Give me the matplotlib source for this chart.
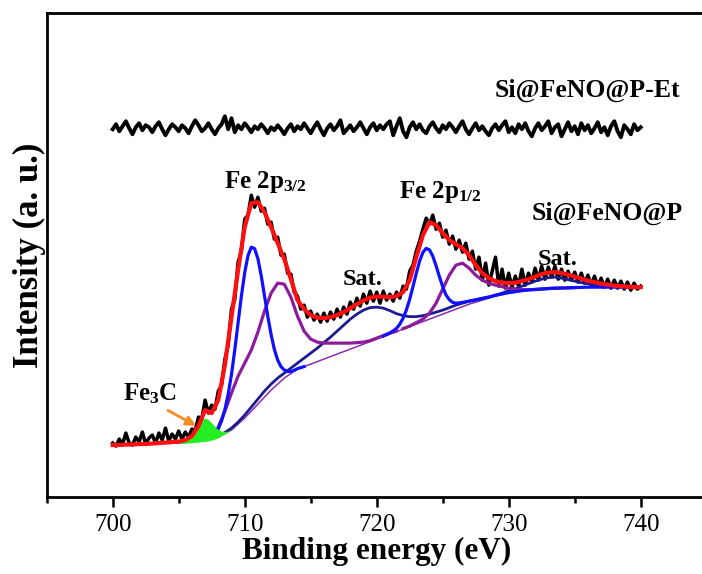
import numpy as np
import matplotlib
matplotlib.use("Agg")
import matplotlib.pyplot as plt
from matplotlib.ticker import MultipleLocator

plt.rcParams['font.family'] = 'Liberation Serif'
plt.rcParams['mathtext.fontset'] = 'custom'
plt.rcParams['mathtext.rm'] = 'Liberation Serif:bold'
plt.rcParams['mathtext.bf'] = 'Liberation Serif:bold'
plt.rcParams['mathtext.default'] = 'rm'

# measured spectra, 0.25 eV step
be_raw = np.arange(700, 740.001, 0.25)
etched = [366, 371, 364, 369, 374, 367, 361, 368, 372, 365,
          370, 368, 363, 369, 373, 366, 360, 366, 371, 368,
          364, 370, 367, 362, 369, 375, 370, 364, 367, 372,
          366, 361, 367, 371, 379, 366, 377, 363, 370, 366,
          372, 368, 363, 369, 366, 371, 367, 362, 368, 365,
          370, 366, 361, 367, 371, 364, 369, 366, 372, 367,
          362, 368, 373, 366, 360, 367, 371, 365, 369, 375,
          362, 366, 370, 364, 368, 373, 367, 361, 368, 372,
          365, 370, 366, 371, 374, 360, 369, 377, 364, 358,
          368, 373, 366, 371, 365, 362, 369, 373, 367, 363,
          370, 366, 372, 368, 363, 369, 374, 366, 361, 367,
          372, 365, 369, 364, 360, 367, 371, 365, 370, 374,
          363, 368, 362, 371, 366, 372, 364, 359, 367, 372,
          365, 369, 374, 362, 368, 371, 359, 366, 373, 364,
          369, 361, 372, 365, 370, 362, 367, 373, 363, 368,
          360, 369, 374, 364, 358, 370, 366, 361, 371, 365,
          368]
pristine = [52, 49, 56, 51, 62, 52, 50, 58, 53, 63,
            51, 57, 60, 52, 62, 55, 67, 54, 61, 56,
            64, 56, 63, 58, 66, 64, 78, 76, 95, 82,
            90, 86, 104, 110, 136, 150, 186, 196, 233, 244,
            276, 280, 300, 288, 298, 284, 287, 271, 273, 256,
            258, 240, 241, 222, 221, 203, 199, 186, 190, 178,
            184, 175, 181, 173, 182, 174, 183, 176, 186, 178,
            188, 181, 193, 186, 197, 189, 201, 192, 204, 194,
            203, 192, 204, 195, 201, 194, 203, 197, 209, 206,
            224, 230, 244, 254, 266, 277, 271, 280, 266, 272,
            258, 265, 251, 259, 246, 255, 243, 252, 236, 244,
            226, 238, 215, 232, 210, 224, 238, 209, 226, 207,
            222, 208, 219, 209, 226, 210, 222, 213, 227, 215,
            229, 216, 228, 218, 229, 216, 226, 215, 224, 215,
            223, 213, 222, 212, 220, 210, 219, 209, 217, 208,
            216, 207, 215, 207, 214, 206, 213, 205, 212, 206,
            209]

# fitted curves
be_env = np.arange(700, 740.001, 0.5)
envelope = [50, 50, 50.5, 50.5, 51, 51, 51.5, 52, 52.5, 53,
            53.5, 55, 59, 69, 85, 82, 95, 130, 178, 225,
            268, 292, 293, 283, 268, 252, 236, 216, 195, 186,
            180, 177.5, 177, 178, 180, 183, 187, 191, 194.5, 197.5,
            198.5, 198.5, 198, 199, 203, 215, 238, 260, 273, 270,
            262, 255, 251, 247, 240, 230, 222, 217, 214, 212.5,
            212, 212.5, 214, 216, 218.5, 221, 222.5, 223, 222, 220.5,
            218.5, 216.5, 214.5, 213, 211.5, 210.5, 209.5, 209, 208.5, 208,
            208]

be_bg = np.arange(700, 740.001, 1.0)
shirley = [50, 50, 50.5, 51, 51.5, 52, 53, 55, 58, 65,
           77, 91, 105, 117, 126, 131, 136, 141, 146, 151,
           156, 161, 166, 171, 176, 181, 186, 191, 195, 199,
           202, 204, 205.5, 206.5, 207, 207.5, 208, 208, 208, 208,
           208]

be_fe3c = np.arange(705, 709.001, 0.25)
fe3c_top = [52.5, 53.5, 55.5, 58.5, 62, 66.5, 71, 75, 77, 75.5,
            72, 68.5, 65.5, 64, 63.5, 64, 65.5]
fe3c_base = [51.5, 51.7, 51.9, 52.1, 52.3, 52.6, 53, 53.4, 53.8, 54.3,
             55, 56, 57.5, 59.5, 61.5, 63.3, 65]

be_p32 = np.arange(707.5, 714.501, 0.25)
p32_main = [58.6, 61.6, 66.2, 74.2, 85.5, 100.9, 120.6, 145.4, 172.4, 199.1,
            222.5, 239.6, 248, 246.6, 236.5, 219.6, 199.4, 178.9, 160.6, 145.6,
            135, 128.4, 125.2, 123.6, 123.6, 124.8, 126.5, 127.5, 128.5]

be_p32s = np.arange(707, 721.501, 0.5)
p32_sat = [55.5, 59, 68, 84, 102, 119, 132, 145, 163, 184,
           202, 212, 211, 198, 179, 164, 156, 153, 152, 152,
           152, 152, 152, 152.5, 153, 154.5, 157, 159.5, 162, 164]

be_sat = np.arange(707.5, 740.001, 0.5)
shake_up = [56.5, 59, 62.5, 67, 73, 80, 88, 96, 104, 111,
            117, 122, 127, 132, 137, 142, 147, 152.5, 158, 164,
            170, 176, 181, 185, 187.5, 188, 187, 184.5, 181.5, 179.5,
            178.5, 178.5, 179.5, 181, 183, 185, 187.5, 190, 192, 194,
            195.5, 197, 198, 200, 202, 204.5, 206.5, 209, 211.5, 214,
            216, 217.5, 218, 217, 215.5, 214, 212.5, 211.5, 210.5, 209.5,
            209, 208.5, 208.2, 208, 208, 208]

be_p12 = np.concatenate([np.arange(720.5, 730.001, 0.25), np.arange(731, 740.001, 1.0)])
p12_main = [159, 160.6, 162.2, 164.3, 166.7, 170.9, 176.9, 185.2, 195.9, 208.6,
            221.9, 234, 242.8, 246.8, 245.3, 239, 229.4, 218.6, 208.4, 200.2,
            195.5, 192.8, 192, 192.3, 192.7, 193.4, 194, 194.6, 195.2, 195.9,
            196.6, 197.4, 198.2, 199, 199.9, 200.6, 201.2, 201.9, 202.5,
            204.5, 205.8, 206.7, 207.2, 207.6, 208, 208, 208, 208, 208]

be_p12s = np.arange(722, 735.001, 0.5)
p12_sat = [166.5, 169, 172.5, 176, 182, 192, 206, 220, 230, 232,
           227, 220, 215, 212, 210, 208.5, 207, 206, 205.5, 205.5,
           205.5, 206, 206.5, 207, 207, 207.2, 207.5]

fig = plt.figure(figsize=(7.02, 5.74), dpi=100)
ax = fig.add_axes([0.0665, 0.1341, 0.9402, 0.8427])

ax.plot(be_raw, etched, color='black', lw=2.8, zorder=1)
ax.plot(be_raw, pristine, color='black', lw=2.5, zorder=1)

ax.plot(be_bg, shirley, color='#8a2cb0', lw=1.1, zorder=2)
ax.plot(be_sat, shake_up, color='#1c1c8e', lw=2.0, zorder=3)
ax.plot(be_p32s, p32_sat, color='#8b1c9c', lw=2.3, zorder=3)
ax.plot(be_p12s, p12_sat, color='#8b1c9c', lw=2.3, zorder=3)
ax.plot(be_p32, p32_main, color='#1010ff', lw=2.3, zorder=4)
ax.plot(be_p12, p12_main, color='#1010ff', lw=2.3, zorder=4)
ax.fill_between(be_fe3c, fe3c_base, fe3c_top, color='#22ee22', lw=0, zorder=5)
ax.plot(be_env, envelope, color='#ff1010', lw=3.0, zorder=6)

# labels on the plot
ax.text(736.0, 405, 'Si@FeNO@P-Et', fontsize=18.5, fontweight='bold', ha='center', va='center')
ax.text(737.45, 282, 'Si@FeNO@P', fontsize=18.5, fontweight='bold', ha='center', va='center')
ax.text(711.55, 307, r'Fe 2p$_{3/2}$', fontsize=18, fontweight='bold', ha='center', va='baseline')
ax.text(724.8, 297, r'Fe 2p$_{1/2}$', fontsize=18, fontweight='bold', ha='center', va='baseline')
ax.text(718.9, 210, 'Sat.', fontsize=17.5, fontweight='bold', ha='center', va='baseline')
ax.text(733.7, 230, 'Sat.', fontsize=17.5, fontweight='bold', ha='center', va='baseline')
ax.text(702.8, 95, r'Fe$_3$C', fontsize=18, fontweight='bold', ha='center', va='baseline')
ax.annotate('', xy=(706.5, 68), xytext=(704.0, 86),
            arrowprops=dict(arrowstyle='-|>', color='#f68b1f', lw=2.0, mutation_scale=14),
            zorder=7)

ax.set_xlim(695, 745)
ax.set_ylim(-2, 482)
ax.set_yticks([])
ax.xaxis.set_major_locator(MultipleLocator(10))
ax.xaxis.set_minor_locator(MultipleLocator(5))
ax.tick_params(axis='x', which='major', direction='out', length=7, width=1.8,
               labelsize=18, pad=5)
ax.tick_params(axis='x', which='minor', direction='out', length=4, width=1.8)
for sp in ax.spines.values():
    sp.set_linewidth(2.0)

ax.set_xlabel('Binding energy (eV)', fontsize=22.5, fontweight='bold', labelpad=1)
ax.set_ylabel('Intensity (a. u.)', fontsize=25, fontweight='bold', labelpad=0.5)

fig.savefig('out.png', dpi=100)
